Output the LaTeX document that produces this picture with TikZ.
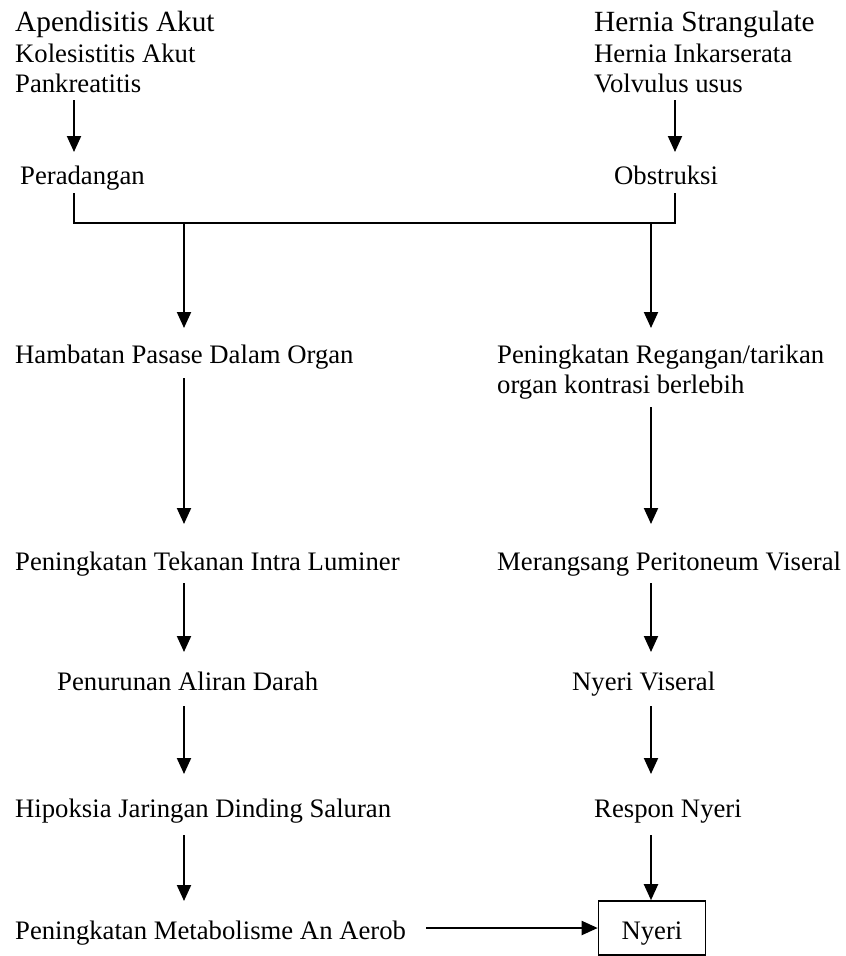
\documentclass[tikz,border=0pt]{standalone}
\usepackage{fontspec}
\setmainfont{Liberation Serif}
\usetikzlibrary{arrows.meta}
\begin{document}
\begin{tikzpicture}[x=1pt,y=-1pt,
  lbl/.style={anchor=base west,inner sep=0pt,font=\fontsize{26.7}{30.7}\selectfont},
  big/.style={anchor=base west,inner sep=0pt,font=\fontsize{29.3}{33}\selectfont},
  ln/.style={line width=2pt},
  arr/.style={line width=2pt,-{Triangle[width=14pt,length=16pt]}},
  boxnode/.style={draw,line width=1.6pt,inner sep=0pt,minimum width=107pt,minimum height=54pt,
    text height=28pt,text depth=6pt,font=\fontsize{26.7}{30.7}\selectfont}]
\useasboundingbox (0,0) rectangle (846,956);
% top left list
\node[big] (apen) at (15,31) {Apendisitis Akut};
\node[lbl] (koles) at (15,62) {Kolesistitis Akut};
\node[lbl] (pank) at (15,92) {Pankreatitis};
\node[lbl] (perad) at (20,184) {Peradangan};
% top right list
\node[big] (hern) at (594,31) {Hernia Strangulate};
\node[lbl] (inkar) at (594,62) {Hernia Inkarserata};
\node[lbl] (volv) at (594,92) {Volvulus usus};
\node[lbl] (obst) at (614,184) {Obstruksi};
% left chain
\node[lbl] (hamb) at (15,363) {Hambatan Pasase Dalam Organ};
\node[lbl] (tek) at (15,570) {Peningkatan Tekanan Intra Luminer};
\node[lbl] (penur) at (57,690) {Penurunan Aliran Darah};
\node[lbl] (hipo) at (15,817) {Hipoksia Jaringan Dinding Saluran};
\node[lbl] (meta) at (15,939) {Peningkatan Metabolisme An Aerob};
% right chain
\node[lbl] (reg) at (497,363) {Peningkatan Regangan/tarikan};
\node[lbl] (reg2) at (497,393) {organ kontrasi berlebih};
\node[lbl] (meran) at (497,570) {Merangsang Peritoneum Viseral};
\node[lbl] (vis) at (572,690) {Nyeri Viseral};
\node[lbl] (resp) at (594,817) {Respon Nyeri};
\node[boxnode] (nyeri) at (652,928) {Nyeri};
% columns
\coordinate (cA) at (74,0);
\coordinate (cB) at (675,0);
\coordinate (cL) at (184,0);
\coordinate (cR) at (651,0);
\coordinate (bar) at (0,223);
% top arrows
\draw[arr] ([yshift=-8pt]pank.base -| cA) -- ([yshift=32pt]perad.base -| cA);
\draw[arr] ([yshift=-8pt]volv.base -| cB) -- ([yshift=32pt]obst.base -| cB);
% bracket
\draw[ln] ([yshift=-9pt]perad.base -| cA) -- (bar -| cA) -- (bar -| cB) -- ([yshift=-9pt]obst.base -| cB);
\draw[arr] (bar -| cL) -- ([yshift=35pt]hamb.base -| cL);
\draw[arr] (bar -| cR) -- ([yshift=35pt]reg.base -| cR);
% left chain arrows
\draw[arr] ([yshift=-15pt]hamb.base -| cL) -- ([yshift=46pt]tek.base -| cL);
\draw[arr] ([yshift=-13pt]tek.base -| cL) -- ([yshift=38pt]penur.base -| cL);
\draw[arr] ([yshift=-16pt]penur.base -| cL) -- ([yshift=43pt]hipo.base -| cL);
\draw[arr] ([yshift=-18pt]hipo.base -| cL) -- ([yshift=38pt]meta.base -| cL);
% right chain arrows
\draw[arr] ([yshift=-14pt]reg2.base -| cR) -- ([yshift=46pt]meran.base -| cR);
\draw[arr] ([yshift=-13pt]meran.base -| cR) -- ([yshift=38pt]vis.base -| cR);
\draw[arr] ([yshift=-16pt]vis.base -| cR) -- ([yshift=43pt]resp.base -| cR);
\draw[arr] ([yshift=-18pt]resp.base -| cR) -- (nyeri.north -| cR);
% horizontal
\draw[arr] ([xshift=20pt]meta.east |- nyeri.west) -- (nyeri.west);
\end{tikzpicture}
\end{document}
